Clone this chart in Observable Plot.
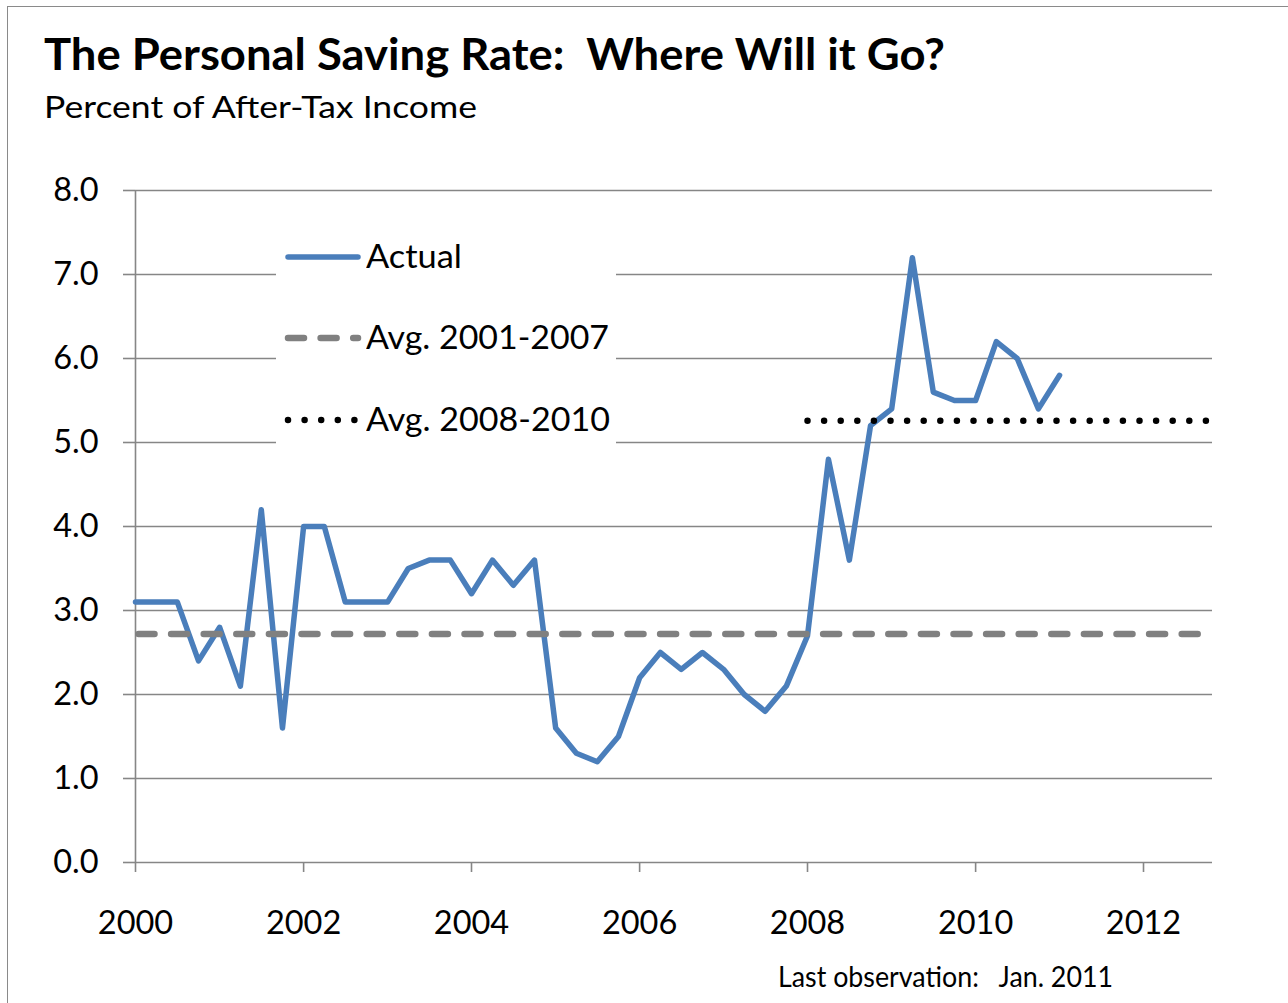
<!DOCTYPE html>
<html>
<head>
<meta charset="utf-8">
<script src="https://cdn.jsdelivr.net/npm/d3@7"></script>
<script src="https://cdn.jsdelivr.net/npm/@observablehq/plot@0.6"></script>
<style>
  body { margin: 0; background: #fff; }
  #wrap { position: relative; width: 1288px; height: 1003px; overflow: hidden; font-family: Lato, "Open Sans", sans-serif; color: #000; background: #fff; }
  #frame { position: absolute; left: 7px; top: 6px; width: 1400px; height: 1100px; border: 1.5px solid #8a8a8a; box-sizing: border-box; }
  .txt { position: absolute; white-space: pre; line-height: 1; transform-origin: 0 0; }
  #title { left: 44px; top: 31px; font-size: 44px; font-weight: 700; }
  #subtitle { left: 44px; top: 91px; font-size: 30px; }
  #footer { left: 778px; top: 962px; font-size: 28px; }
  #chart { position: absolute; left: 0; top: 140px; }
  #legend { position: absolute; left: 276px; top: 228px; width: 340px; height: 222px; background: #fff; }
  #legend svg { position: absolute; left: 0; top: 0; }
  .lg { font-size: 32.5px; left: 90px; }
</style>
</head>
<body>
<div id="wrap">
  <div id="frame"></div>
  <div id="chart"></div>
  <div id="legend"></div>
  <div class="txt" id="title" data-w="901">The Personal Saving Rate:  Where Will it Go?</div>
  <div class="txt" id="subtitle" data-w="433">Percent of After-Tax Income</div>
  <div class="txt" id="footer" data-w="335">Last observation:   Jan. 2011</div>
</div>
<script>
// ---- data ----
const quarters = [
  "2000-01-01","2000-04-01","2000-07-01","2000-10-01",
  "2001-01-01","2001-04-01","2001-07-01","2001-10-01",
  "2002-01-01","2002-04-01","2002-07-01","2002-10-01",
  "2003-01-01","2003-04-01","2003-07-01","2003-10-01",
  "2004-01-01","2004-04-01","2004-07-01","2004-10-01",
  "2005-01-01","2005-04-01","2005-07-01","2005-10-01",
  "2006-01-01","2006-04-01","2006-07-01","2006-10-01",
  "2007-01-01","2007-04-01","2007-07-01","2007-10-01",
  "2008-01-01","2008-04-01","2008-07-01","2008-10-01",
  "2009-01-01","2009-04-01","2009-07-01","2009-10-01",
  "2010-01-01","2010-04-01","2010-07-01","2010-10-01",
  "2011-01-01"
];
const savingRate = [
  3.1, 3.1, 3.1, 2.4,
  2.8, 2.1, 4.2, 1.6,
  4.0, 4.0, 3.1, 3.1,
  3.1, 3.5, 3.6, 3.6,
  3.2, 3.6, 3.3, 3.6,
  1.6, 1.3, 1.2, 1.5,
  2.2, 2.5, 2.3, 2.5,
  2.3, 2.0, 1.8, 2.1,
  2.7, 4.8, 3.6, 5.2,
  5.4, 7.2, 5.6, 5.5,
  5.5, 6.2, 6.0, 5.4,
  5.8
];
const avg2001_2007 = 2.72;
const avg2008_2010 = 5.26;
const avgLineStart = ["2000-01-01", "2008-01-01"];
const axisStart = "2000-01-01";
const axisEnd = "2012-10-27";
const yTicks = [0, 1, 2, 3, 4, 5, 6, 7, 8];
const xTickYears = [2000, 2002, 2004, 2006, 2008, 2010, 2012];
const legendLabels = ["Actual", "Avg. 2001-2007", "Avg. 2008-2010"];

// ---- styles ----
const gridColor = "#868686";
const blue = "#4A7EBB";
const gray = "#808080";
const dashPattern = "16 16.6";
const dotPattern = "0 16.6";

const rows = quarters.map((q, i) => ({date: new Date(q), rate: savingRate[i]}));
const xStart = new Date(axisStart), xEnd = new Date(axisEnd);
const avgA = [{date: new Date(avgLineStart[0]), v: avg2001_2007}, {date: xEnd, v: avg2001_2007}];
const avgB = [{date: new Date(avgLineStart[1]), v: avg2008_2010}, {date: xEnd, v: avg2008_2010}];
const xTicks = xTickYears.map(y => new Date(Date.UTC(y, 0, 1)));

const chart = Plot.plot({
  width: 1288,
  height: 810,
  marginLeft: 135,
  marginRight: 76,
  marginTop: 50,
  marginBottom: 88,
  style: {fontFamily: "Lato, 'Open Sans', sans-serif", fontSize: "32.5px", color: "#000", background: "transparent", overflow: "visible"},
  x: {type: "utc", domain: [xStart, xEnd]},
  y: {domain: [0, 8]},
  marks: [
    Plot.gridY(yTicks, {stroke: gridColor, strokeOpacity: 1, strokeWidth: 1.6}),
    Plot.axisY(yTicks, {tickSize: 12, tickPadding: 25, tickFormat: d3.format(".1f"), stroke: gridColor, strokeWidth: 1.6, label: null}),
    Plot.axisX(xTicks, {tickSize: 10, tickPadding: 38, tickFormat: d3.utcFormat("%Y"), stroke: gridColor, strokeWidth: 1.6, label: null}),
    Plot.ruleX([xStart], {stroke: gridColor, strokeWidth: 1.6}),
    Plot.line(rows, {x: "date", y: "rate", stroke: blue, strokeWidth: 5.5, strokeLinejoin: "round", strokeLinecap: "round"}),
    Plot.line(avgA, {x: "date", y: "v", stroke: gray, strokeWidth: 6.5, strokeDasharray: dashPattern, strokeLinecap: "round", strokeDashoffset: -3}),
    Plot.line(avgB, {x: "date", y: "v", stroke: "#000", strokeWidth: 6.5, strokeDasharray: dotPattern, strokeLinecap: "round"})
  ]
});
document.getElementById("chart").appendChild(chart);

// ---- legend ----
const legend = document.getElementById("legend");
const ns = "http://www.w3.org/2000/svg";
const lsvg = document.createElementNS(ns, "svg");
lsvg.setAttribute("width", 340);
lsvg.setAttribute("height", 222);
const legendStyles = [
  {stroke: blue, width: 5.5, dash: null},
  {stroke: gray, width: 6.5, dash: dashPattern},
  {stroke: "#000", width: 6.5, dash: dotPattern}
];
const rowY = [29, 110, 192];
legendLabels.forEach((lab, i) => {
  const s = legendStyles[i];
  const ln = document.createElementNS(ns, "line");
  ln.setAttribute("x1", 12); ln.setAttribute("x2", 82);
  ln.setAttribute("y1", rowY[i]); ln.setAttribute("y2", rowY[i]);
  ln.setAttribute("stroke", s.stroke);
  ln.setAttribute("stroke-width", s.width);
  ln.setAttribute("stroke-linecap", "round");
  if (s.dash) ln.setAttribute("stroke-dasharray", s.dash);
  lsvg.appendChild(ln);
  const t = document.createElement("div");
  t.className = "txt lg";
  t.textContent = lab;
  t.style.top = (rowY[i] + 12 - 0.887 * 32.5) + "px";
  t.dataset.w = [96, 243, 244][i];
  legend.appendChild(t);
});
legend.insertBefore(lsvg, legend.firstChild);

// fit text widths to the reference
function fit() {
  document.querySelectorAll(".txt[data-w]").forEach(el => {
    el.style.transform = "none";
    const w = el.getBoundingClientRect().width;
    const k = (+el.dataset.w) / w;
    if (k > 0.75 && k < 1.3) el.style.transform = `scaleX(${k})`;
  });
}
fit();
if (document.fonts && document.fonts.ready) document.fonts.ready.then(fit);
</script>
</body>
</html>
